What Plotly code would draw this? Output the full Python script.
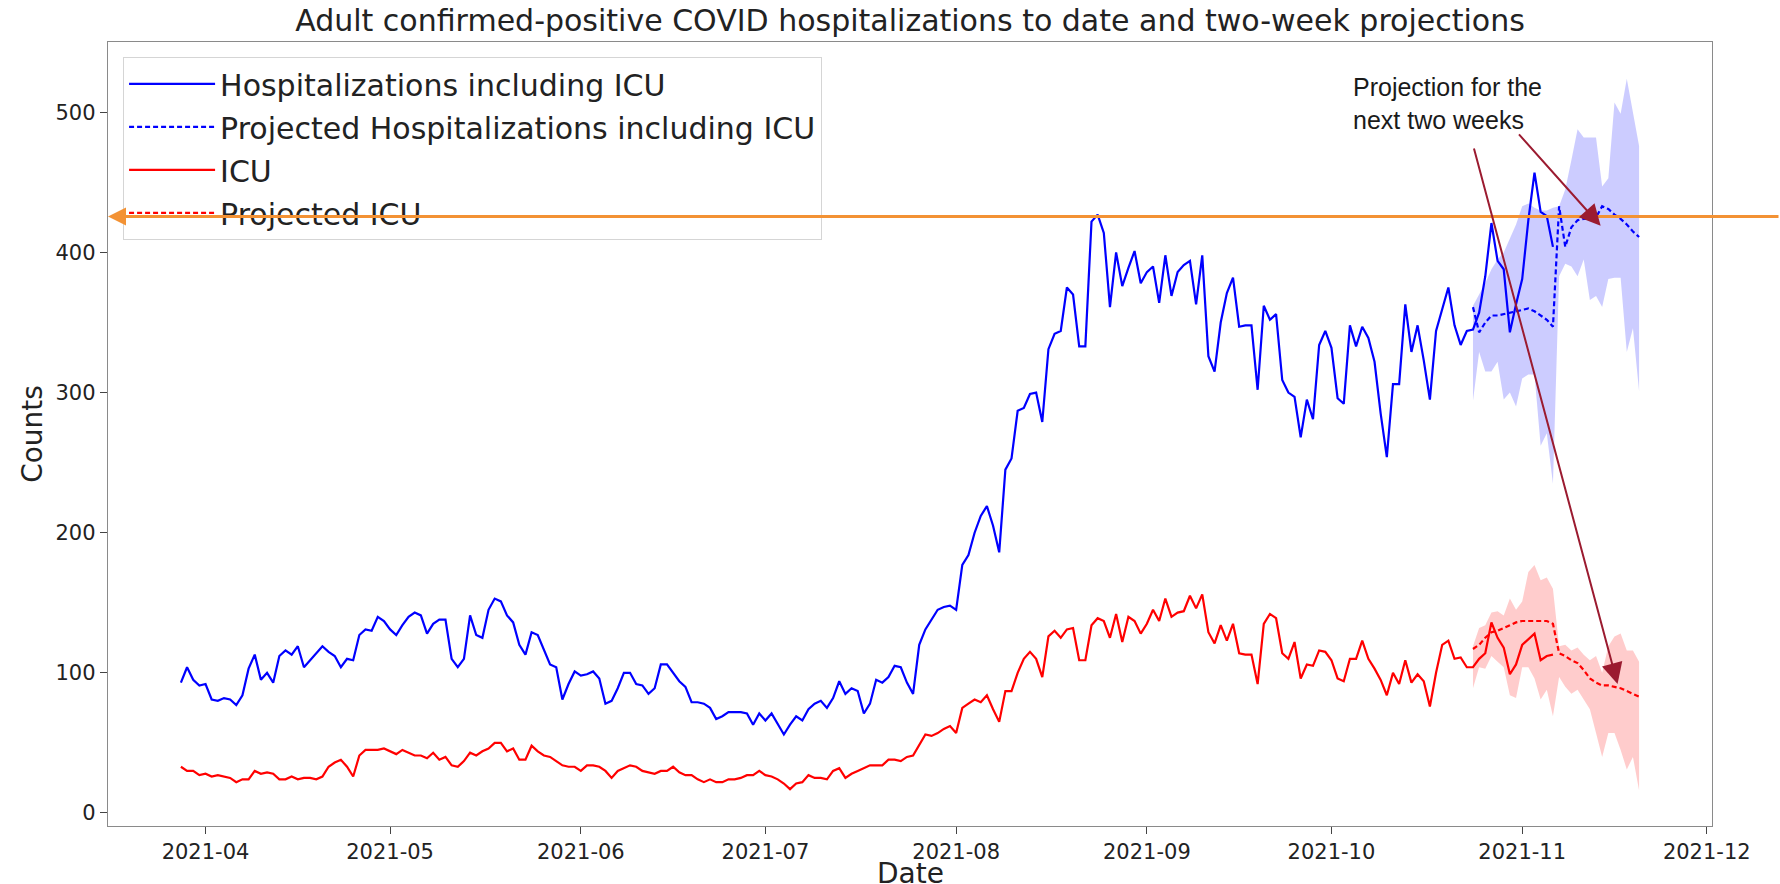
"""Adult confirmed-positive COVID hospitalizations with two-week projections.

Observed daily counts (hospital incl. ICU, ICU only) plus projection bands,
redrawn with Plotly.
"""
import pandas as pd
import plotly.graph_objects as go

# observed daily counts, one value per day starting 2021-03-28
hosp = [
    93, 104, 95, 91, 92, 81, 80, 82, 81, 77, 84, 103, 113, 95, 100, 93, 112, 116, 113, 119,
    104, 109, 114, 119, 115, 112, 104, 110, 109, 127, 131, 130, 140, 137, 131, 127, 134, 140, 143, 141,
    128, 135, 138, 138, 110, 104, 110, 141, 127, 125, 145, 153, 151, 141, 136, 120, 113, 129, 127, 116,
    106, 104, 81, 92, 101, 98, 99, 101, 96, 78, 80, 89, 100, 100, 92, 91, 85, 89, 106, 106,
    100, 94, 90, 79, 79, 78, 75, 67, 69, 72, 72, 72, 71,
    63, 71, 66, 71, 63, 56, 63, 69, 66, 74, 78, 80, 75, 82, 94, 85, 89, 87, 71, 78,
    95, 93, 97, 105, 104, 93, 85, 120, 131, 138, 145, 147, 148, 145, 177, 184, 200,
    212, 219, 205, 186,
    245, 253, 287, 289, 299, 300, 279, 331, 342, 344, 375, 370, 333, 333, 422, 427, 414, 361, 400, 376,
    389, 401, 378, 386, 390, 364, 398, 369, 386, 391, 394, 363,
    398, 326, 315, 350, 371, 382, 347, 348, 348, 302, 362, 352, 356, 309, 300, 297, 268, 295, 281, 334,
    344, 332, 296, 292, 348, 333, 347, 339, 322, 285, 254, 306, 306, 363, 329, 348, 323, 295, 344, 360,
    375, 348, 334,
    344, 345, 357, 383, 421, 394, 388, 343, 363, 381, 423, 457, 429, 426, 404,
]
icu = [
    33, 30, 30, 27, 28, 26, 27, 26, 25, 22, 24, 24, 30, 28, 29, 28, 24, 24, 26, 24,
    25, 25, 24, 26, 33, 36, 38, 33, 26, 41, 45, 45, 45, 46, 44, 42, 45, 43, 41, 41,
    39, 43, 38, 40, 34, 33, 37, 43, 41, 44, 46, 50, 50, 44, 46, 38, 38, 48, 44, 41,
    40, 37, 34, 33, 33, 30, 34, 34, 33, 30, 25, 30, 32, 34, 33, 30, 29, 28, 30, 30,
    33, 29, 27, 27, 24, 22, 24, 22, 22, 24, 24, 25, 27,
    27, 30, 27, 26, 24, 21, 17, 21, 22, 27, 25, 25, 24, 30, 32, 25, 28, 30, 32, 34,
    34, 34, 38, 38, 37, 40, 41, 48, 56, 55, 57, 60, 62, 57, 75, 78, 81, 79, 84, 74, 65,
    87, 87, 100, 110, 115, 110, 97, 126, 130, 125, 131, 132, 109, 109, 134, 139, 137, 125, 142, 122,
    140, 137, 128, 135, 145, 137, 153, 140, 143, 144, 155, 146, 156, 129, 121, 134, 123, 135, 114, 113,
    113, 92,
    135, 142, 139, 114, 110, 122, 96, 106, 105, 116, 115, 109, 96, 94, 110, 110, 123, 110, 103, 95,
    84, 100, 92, 109, 93, 99, 94, 76, 100, 120, 123, 110, 111, 104, 104,
    110, 114, 136, 125, 118, 99, 106, 120, 124, 128, 109, 112, 113,
]

# projections (two back-to-back two-week runs), one value per day from 2021-10-24
proj_hosp = [361, 343, 350, 355, 355, 356, 357, 358, 359, 360, 358, 355, 352, 347,
             433, 404, 418, 423, 424, 424, 425, 433, 431, 427, 424, 420, 415, 411]
proj_hosp_hi = [362, 370, 378, 388, 395, 400, 410, 420, 433, 435, 432, 430, 430, 432,
                433, 445, 466, 488, 482, 482, 482, 447, 453, 507, 499, 524, 499, 476]
proj_hosp_lo = [294, 329, 315, 315, 322, 295, 300, 290, 310, 313, 313, 262, 271, 235,
                383, 392, 390, 383, 395, 366, 369, 361, 381, 382, 382, 329, 346, 301]
proj_icu = [117, 120, 125, 129, 130, 132, 134, 136, 137, 137, 137, 137, 137, 135,
            114, 112, 109, 107, 102, 96, 93, 91, 91, 90, 89, 87, 85, 83]
proj_icu_hi = [119, 132, 134, 143, 144, 141, 153, 145, 151, 172, 177, 166, 168, 160,
               119, 120, 116, 118, 113, 109, 112, 100, 119, 126, 128, 116, 116, 108]
proj_icu_lo = [89, 104, 103, 112, 108, 104, 84, 82, 104, 104, 96, 81, 88, 69,
               97, 90, 85, 88, 81, 74, 57, 40, 57, 57, 45, 31, 40, 16]

obs_start = "2021-03-28"
proj_start = "2021-10-24"
ref_level = 425.6  # orange marker line drawn over the chart

FONT = "DejaVu Sans"


def add_band(fig, dates, lo, hi, color):
    fig.add_trace(go.Scatter(x=dates, y=hi, mode="lines", line=dict(width=0),
                             showlegend=False, hoverinfo="skip"))
    fig.add_trace(go.Scatter(x=dates, y=lo, mode="lines", line=dict(width=0),
                             fill="tonexty", fillcolor=color,
                             showlegend=False, hoverinfo="skip"))


def build_figure():
    obs_dates = pd.date_range(obs_start, periods=len(hosp), freq="D")
    proj_dates = pd.date_range(proj_start, periods=len(proj_hosp), freq="D")

    fig = go.Figure()
    add_band(fig, proj_dates, proj_hosp_lo, proj_hosp_hi, "rgba(0,0,255,0.2)")
    add_band(fig, proj_dates, proj_icu_lo, proj_icu_hi, "rgba(255,0,0,0.2)")

    fig.add_trace(go.Scatter(x=obs_dates, y=hosp, mode="lines", name="Hospitalizations including ICU",
                             line=dict(color="#0000ff", width=2.2), legendgroup="a"))
    fig.add_trace(go.Scatter(x=proj_dates, y=proj_hosp, mode="lines",
                             name="Projected Hospitalizations including ICU",
                             line=dict(color="#0000ff", width=2.2, dash="5px,3px"), legendgroup="b"))
    fig.add_trace(go.Scatter(x=obs_dates, y=icu, mode="lines", name="ICU",
                             line=dict(color="#ff0000", width=2.2), legendgroup="c"))
    fig.add_trace(go.Scatter(x=proj_dates, y=proj_icu, mode="lines", name="Projected ICU",
                             line=dict(color="#ff0000", width=2.2, dash="5px,3px"), legendgroup="d"))

    axis_style = dict(showgrid=False, zeroline=False, showline=True, linecolor="#8a8a8a",
                      linewidth=1.4, mirror=True, ticks="outside", ticklen=7, tickwidth=1.3,
                      tickcolor="#444", tickfont=dict(family=FONT, size=21, color="#222"),
                      automargin=False)

    fig.update_xaxes(type="date", range=["2021-03-16 03:36", "2021-12-01 20:24"],
                     dtick="M1", tick0="2021-04-01", tickformat="%Y-%m", **axis_style)
    fig.update_yaxes(range=[-9.3, 550.2], dtick=100, tick0=0,
                     title=dict(text="Counts", font=dict(family=FONT, size=28, color="#222")),
                     **axis_style)

    # x label sits at the very bottom edge of the figure (cut off there in the original)
    fig.add_annotation(x=0.5, y=-0.0612, xref="paper", yref="paper", text="Date",
                       showarrow=False, xanchor="center", yanchor="middle",
                       font=dict(family=FONT, size=28, color="#222"))

    # orange marker line with arrowhead at the y axis
    fig.add_annotation(x=0, xref="paper", y=ref_level, yref="y", ax=1672, ay=0,
                       axref="pixel", ayref="pixel", text="", showarrow=True,
                       arrowhead=2, arrowsize=1.2, arrowwidth=3, arrowcolor="#f39234",
                       standoff=0)

    # callout for the projection
    fig.add_annotation(x=0.775, y=0.921, xref="paper", yref="paper",
                       text="Projection for the<br>next two weeks", showarrow=False,
                       xanchor="left", yanchor="middle", align="left",
                       font=dict(family="Liberation Sans, Arial", size=25, color="#1a1a1a"))
    fig.add_annotation(x="2021-11-13 18:00", y=419, xref="x", yref="y", ax=-83, ay=-93,
                       text="", showarrow=True, arrowhead=2, arrowsize=2.1, arrowwidth=2,
                       arrowcolor="#9b1b30", standoff=0)
    fig.add_annotation(x="2021-11-16 12:00", y=92, xref="x", yref="y", ax=-144, ay=-537,
                       text="", showarrow=True, arrowhead=2, arrowsize=2.1, arrowwidth=2,
                       arrowcolor="#9b1b30", standoff=0)

    fig.update_layout(
        template="none",
        width=1780, height=884,
        margin=dict(l=108, r=68, t=42, b=58),
        paper_bgcolor="white", plot_bgcolor="white",
        font=dict(family=FONT, color="#222"),
        title=dict(text="Adult confirmed-positive COVID hospitalizations to date and two-week projections",
                   x=0.5, xref="paper", xanchor="center", y=1 - 20 / 884, yanchor="middle",
                   font=dict(family=FONT, size=30, color="#222")),
        legend=dict(x=0.0094, y=0.981, xanchor="left", yanchor="top",
                    bgcolor="rgba(255,255,255,0)", bordercolor="#d5d5d5", borderwidth=1,
                    font=dict(family=FONT, size=30, color="#222"),
                    tracegroupgap=1, itemwidth=86),
        showlegend=True,
    )
    return fig


def main():
    fig = build_figure()
    # drop the page's default body margin so the 1780x884 figure fills the window
    fig.write_html("out.html", config={"displayModeBar": False},
                   post_script="document.body.style.margin='0';")


if __name__ == "__main__":
    main()
